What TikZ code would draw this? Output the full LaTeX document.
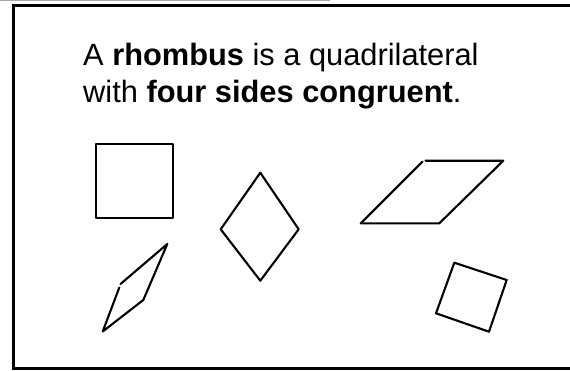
\documentclass[tikz,border=0pt]{standalone}
\usepackage{fontspec}
\setmainfont{Liberation Sans}
\begin{document}
\begin{tikzpicture}[x=1pt,y=-1pt,
  frameline/.style={line width=2.2pt,line cap=rect},
  shapeline/.style={line width=2.1pt,line join=round,line cap=round},
  txt/.style={anchor=base west,inner sep=0pt,font=\fontsize{30.8}{37}\selectfont}]
\useasboundingbox (0,0) rectangle (570,370);
% frame (open on the right, as cropped)
\draw[gray!70,line width=1.2pt] (0,0.7) -- (330,0.7);
\draw[frameline] (570,5.5) -- (13.5,5.5) -- (13.5,368.5) -- (570,368.5);
% text
\node[txt] (l1) at (83,65.5) {A \textbf{rhombus} is a quadrilateral};
\node[txt] (l2) at (83,102.5) {with \textbf{four sides congruent}.};
% square
\draw[shapeline,line width=2.3pt] (96,144) rectangle (173,218);
% diamond
\draw[shapeline] (260.3,172.7) -- (298.7,229.3) -- (260.3,280.7) -- (220.7,229.3) -- cycle;
% thin rhombus (small gap at left vertex)
\draw[shapeline] (120.5,284) -- (167.3,244) -- (143.3,300) -- (102.7,331.5) -- (119.3,287.5);
% parallelogram (small gap at top-left vertex)
\draw[shapeline] (425.5,160.7) -- (503.3,160.7) -- (439.3,223.3) -- (360.7,223.3) -- (422.7,161.5);
% tilted square
\draw[shapeline] (454.3,262.7) -- (506.7,280) -- (489,331.7) -- (436,313.3) -- cycle;
\end{tikzpicture}
\end{document}
